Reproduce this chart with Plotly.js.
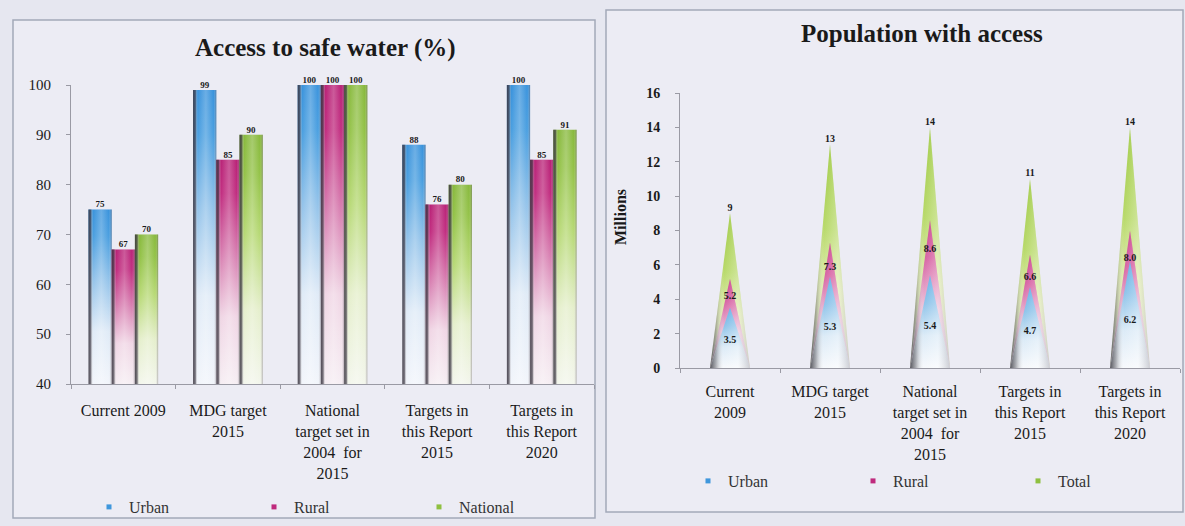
<!DOCTYPE html>
<html>
<head>
<meta charset="utf-8">
<script src="https://cdn.plot.ly/plotly-3.0.1.min.js"></script>
<style>
  html, body { margin: 0; padding: 0; background: #e6e7f0; }
  #chart { width: 1185px; height: 526px; }
</style>
</head>
<body>
<div id="chart"></div>
<script>
// ---- data: access to safe water (%) ----
const accessCategories = [
  "Current 2009",
  "MDG target<br>2015",
  "National<br>target set in<br>2004  for<br>2015",
  "Targets in<br>this Report<br>2015",
  "Targets in<br>this Report<br>2020"
];
const accessUrban    = [75, 99, 100, 88, 100];
const accessRural    = [67, 85, 100, 76, 85];
const accessNational = [70, 90, 100, 80, 91];
const accessTicks    = [40, 50, 60, 70, 80, 90, 100];

// ---- data: population with access (millions) ----
const popCategories = [
  "Current<br>2009",
  "MDG target<br>2015",
  "National<br>target set in<br>2004  for<br>2015",
  "Targets in<br>this Report<br>2015",
  "Targets in<br>this Report<br>2020"
];
const popUrban = [3.5, 5.3, 5.4, 4.7, 6.2];
const popRural = [5.2, 7.3, 8.6, 6.6, 8.0];
const popTotal = [9, 13, 14, 11, 14];
const popTicks = [0, 2, 4, 6, 8, 10, 12, 14, 16];

// ---- styling ----
const W = 1185, H = 526;
const px = v => v / W;
const py = v => 1 - v / H;
const SERIF = "Liberation Serif, Times New Roman, serif";
const INK = "#1a1a1a";
const AXIS = "#9a9aa4";

const BLUE = "#3f97dc", MAGENTA = "#bf2a7d", GREEN = "#8fc040";

const barScales = {
  urban: [[0, "#f2f5fb"], [0.3, "#e0ebf7"], [0.6, "#93c3ea"], [0.85, "#4a9fe0"], [1, "#3a93dc"]],
  rural: [[0, "#f6eef3"], [0.3, "#f0d6e5"], [0.6, "#d678ad"], [0.85, "#c12d80"], [1, "#b92277"]],
  national: [[0, "#f3f6ec"], [0.3, "#e5efcc"], [0.6, "#b7d975"], [0.85, "#93c247"], [1, "#88b93d"]]
};
// darker left rim, soft highlight, faint right rim
const barShade = [
  [0, "rgba(60,55,66,0.9)"], [0.1, "rgba(70,65,76,0.7)"], [0.2, "rgba(255,255,255,0)"],
  [0.55, "rgba(255,255,255,0.25)"], [0.88, "rgba(255,255,255,0)"], [1, "rgba(90,80,92,0.45)"]
];
const coneScales = {
  total: [[0, "#f4f7e4"], [0.35, "#e3eeb6"], [0.62, "#b9da6c"], [1, "#9cc83c"]],
  rural: [[0, "#f6e7ef"], [0.4, "#eec7dc"], [0.75, "#d660a2"], [1, "#c93b8c"]],
  urban: [[0, "#f7f9fc"], [0.35, "#dcebf7"], [0.7, "#8fc4ea"], [1, "#5caee6"]]
};
const coneShade = [
  [0, "rgba(55,55,62,0.85)"], [0.15, "rgba(85,85,92,0.45)"], [0.35, "rgba(255,255,255,0)"],
  [0.7, "rgba(255,255,255,0.3)"], [1, "rgba(150,150,160,0.45)"]
];

const traces = [];

function poly(xs, ys, axis, gradient) {
  traces.push({
    type: "scatter", mode: "lines", x: xs, y: ys, fill: "toself",
    line: { width: 0, color: "rgba(0,0,0,0)" },
    fillgradient: gradient,
    xaxis: axis.x, yaxis: axis.y, hoverinfo: "skip", showlegend: false
  });
}

// ---- grouped cylinder-style bars ----
const barW = 0.222, floor = accessTicks[0];
const barSeries = [
  { values: accessUrban, scale: barScales.urban },
  { values: accessRural, scale: barScales.rural },
  { values: accessNational, scale: barScales.national }
];
barSeries.forEach((s, k) => {
  s.values.forEach((v, i) => {
    const xl = i + (k - 1) * barW - barW / 2, xr = xl + barW;
    const xs = [xl, xr, xr, xl, xl], ys = [floor, floor, v, v, floor];
    const ax = { x: "x", y: "y" };
    poly(xs, ys, ax, { type: "vertical", start: floor, stop: v, colorscale: s.scale });
    poly(xs, ys, ax, { type: "horizontal", start: xl, stop: xr, colorscale: barShade });
  });
  traces.push({
    type: "scatter", mode: "text", xaxis: "x", yaxis: "y",
    x: s.values.map((v, i) => i + (k - 1) * barW), y: s.values,
    text: s.values.map(String), textposition: "top center",
    textfont: { family: SERIF, size: 9, color: INK, weight: "bold" },
    cliponaxis: false, hoverinfo: "skip", showlegend: false
  });
});

// ---- overlapping cones ----
const coneW = 0.2;
const coneSeries = [
  { values: popTotal, scale: coneScales.total, labelAt: 1.0, pos: "top center", fmt: v => String(v) },
  { values: popRural, scale: coneScales.rural, labelAt: 0.8, pos: "middle center", fmt: v => v.toFixed(1) },
  { values: popUrban, scale: coneScales.urban, labelAt: 0.45, pos: "middle center", fmt: v => v.toFixed(1) }
];
coneSeries.forEach(s => {
  s.values.forEach((v, i) => {
    const xs = [i - coneW, i, i + coneW, i - coneW], ys = [0, v, 0, 0];
    const ax = { x: "x2", y: "y2" };
    poly(xs, ys, ax, { type: "vertical", start: 0, stop: v, colorscale: s.scale });
    poly(xs, ys, ax, { type: "horizontal", start: i - coneW, stop: i + coneW, colorscale: coneShade });
  });
});
coneSeries.forEach(s => {
  traces.push({
    type: "scatter", mode: "text", xaxis: "x2", yaxis: "y2",
    x: s.values.map((v, i) => i), y: s.values.map(v => v * s.labelAt),
    text: s.values.map(s.fmt), textposition: s.pos,
    textfont: { family: SERIF, size: 10, color: INK, weight: "bold" },
    cliponaxis: false, hoverinfo: "skip", showlegend: false
  });
});

// ---- legend entries ----
function legendItem(name, color, legend, ax) {
  traces.push({
    type: "scatter", mode: "markers", x: [null], y: [null], name: name,
    marker: { symbol: "square", size: 5, color: color },
    legend: legend, xaxis: ax.x, yaxis: ax.y, hoverinfo: "skip"
  });
}
legendItem("Urban", BLUE, "legend", { x: "x", y: "y" });
legendItem("Rural", MAGENTA, "legend", { x: "x", y: "y" });
legendItem("National", GREEN, "legend", { x: "x", y: "y" });
legendItem("Urban", BLUE, "legend2", { x: "x2", y: "y2" });
legendItem("Rural", MAGENTA, "legend2", { x: "x2", y: "y2" });
legendItem("Total", GREEN, "legend2", { x: "x2", y: "y2" });

const boundaries = [-0.5, 0.5, 1.5, 2.5, 3.5, 4.5];
function xAxis(domain, labels, anchor, standoff) {
  return {
    domain: domain, range: [-0.5, 4.5], anchor: anchor,
    tickmode: "array", tickvals: [0, 1, 2, 3, 4], ticktext: labels,
    ticks: "", showgrid: false, zeroline: false,
    showline: true, linecolor: AXIS, linewidth: 1,
    ticklabelstandoff: standoff,
    tickfont: { family: SERIF, size: 16, color: INK },
    minor: { tickmode: "array", tickvals: boundaries, ticks: "outside", ticklen: 4, tickcolor: AXIS, showgrid: false },
    fixedrange: true
  };
}
function yAxis(domain, range, ticks, anchor, bold, standoff) {
  return {
    domain: domain, range: range, anchor: anchor,
    tickmode: "array", tickvals: ticks,
    ticks: "outside", ticklen: 4, tickcolor: AXIS,
    ticklabelstandoff: standoff,
    showgrid: false, zeroline: false, showline: true, linecolor: AXIS, linewidth: 1,
    tickfont: { family: SERIF, size: bold ? 14 : 15, color: INK, weight: bold ? "bold" : "normal" },
    fixedrange: true
  };
}

const legendFont = { family: SERIF, size: 16, color: "#333" };

const layout = {
  width: W, height: H,
  margin: { l: 0, r: 0, t: 0, b: 0, autoexpand: false },
  paper_bgcolor: "#e6e7f0",
  plot_bgcolor: "rgba(0,0,0,0)",
  xaxis: xAxis([px(71), px(594)], accessCategories, "y", 12),
  yaxis: yAxis([py(384), py(85)], [40, 100], accessTicks, "x", false, 12),
  xaxis2: xAxis([px(680), px(1180)], popCategories, "y2", 9),
  yaxis2: yAxis([py(368), py(93)], [0, 16], popTicks, "x2", true, 12),
  shapes: [
    { type: "rect", xref: "paper", yref: "paper", x0: px(13), x1: px(595), y0: py(518), y1: py(20),
      fillcolor: "#ececf4", line: { color: "#a3a9b8", width: 1.5 }, layer: "below" },
    { type: "rect", xref: "paper", yref: "paper", x0: px(606), x1: px(1183), y0: py(512), y1: py(10),
      fillcolor: "#ececf4", line: { color: "#a3a9b8", width: 1.5 }, layer: "below" }
  ],
  annotations: [
    { text: "Access to safe water (%)", xref: "paper", yref: "paper", x: px(325), y: py(48),
      xanchor: "center", yanchor: "middle",
      showarrow: false, font: { family: SERIF, size: 25, color: INK, weight: "bold" } },
    { text: "Population with access", xref: "paper", yref: "paper", x: px(922), y: py(33),
      xanchor: "center", yanchor: "middle",
      showarrow: false, font: { family: SERIF, size: 25, color: INK, weight: "bold" } },
    { text: "Millions", xref: "paper", yref: "paper", x: px(620), y: py(217), textangle: -90,
      xanchor: "center", yanchor: "middle",
      showarrow: false, font: { family: SERIF, size: 16, color: INK, weight: "bold" } }
  ],
  legend: {
    orientation: "h", x: px(89), y: py(507), xanchor: "left", yanchor: "middle",
    entrywidth: 120, entrywidthmode: "pixels", bgcolor: "rgba(0,0,0,0)", font: legendFont
  },
  legend2: {
    orientation: "h", x: px(688), y: py(481), xanchor: "left", yanchor: "middle",
    entrywidth: 120, entrywidthmode: "pixels", bgcolor: "rgba(0,0,0,0)", font: legendFont
  },
  showlegend: true
};

Plotly.newPlot("chart", traces, layout, { displayModeBar: false, staticPlot: true });
</script>
</body>
</html>
